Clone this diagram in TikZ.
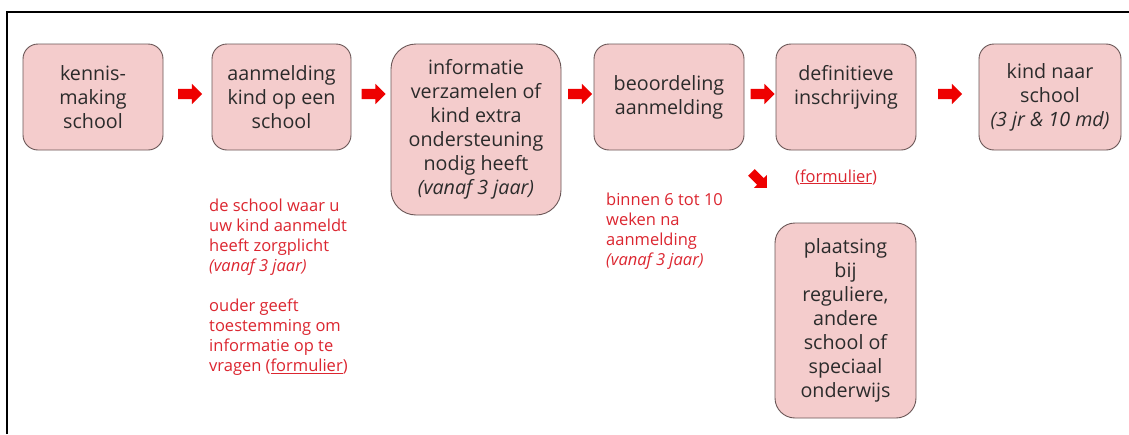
\documentclass[tikz,border=0pt]{standalone}
\usepackage{fontspec}
\setmainfont{Open Sans}
\usetikzlibrary{shapes.arrows}
\definecolor{boxfill}{HTML}{F4CCCC}
\definecolor{boxline}{HTML}{6A5656}
\definecolor{boxtext}{HTML}{2B2B2B}
\definecolor{notered}{HTML}{DC2630}
\definecolor{arrowred}{HTML}{EE0000}
\begin{document}
\begin{tikzpicture}[x=1pt,y=-1pt,
  stepbox/.style={draw=boxline, line width=0.9pt, fill=boxfill, rounded corners=15pt, align=center, text=boxtext, font=\fontsize{19.7}{24}\selectfont, inner sep=0pt},
  note/.style={text=notered, align=left, anchor=north west, inner sep=0pt, font=\fontsize{16.5}{20}\selectfont},
  blockarrow/.style={single arrow, fill=arrowred, draw=none, inner sep=0pt, inner ysep=5pt, minimum height=24pt, single arrow head extend=5pt, single arrow tip angle=90}
]
\useasboundingbox (0,0) rectangle (1129,434);
\fill[white] (0,0) rectangle (1129,434);
\draw[line width=2pt] (7,434) -- (7,12) -- (1129,12);

\node[stepbox, minimum width=140pt, minimum height=106pt] (b1) at (93,97) {kennis-\\making\\school};
\node[stepbox, minimum width=139pt, minimum height=106pt] (b2) at (281.5,97) {aanmelding\\kind op een\\school};
\node[stepbox, rounded corners=25pt, minimum width=170pt, minimum height=171pt] (b3) at (476,129.5) {informatie\\verzamelen of\\kind extra\\ondersteuning\\nodig heeft\\\textit{(vanaf 3 jaar)}};
\node[stepbox, minimum width=150pt, minimum height=106pt] (b4) at (669,97) {beoordeling\\aanmelding};
\node[stepbox, minimum width=140pt, minimum height=106pt] (b5) at (846,97) {definitieve\\inschrijving\\\mbox{}};
\node[stepbox, minimum width=142pt, minimum height=106pt] (b6) at (1050,97) {kind naar\\school\\\textit{(3 jr \& 10 md)}};
\node[stepbox, rounded corners=20pt, minimum width=141pt, minimum height=195pt] (b7) at (845.5,320.5) {plaatsing\\bij\\reguliere,\\andere\\school of\\speciaal\\onderwijs};

\path (b1.east) -- (b2.west) node[blockarrow, midway, yshift=3pt] (a1) {};
\path (b2.east) -- (b2.east -| b3.west) node[blockarrow, midway, yshift=3pt] (a2) {};
\path (b3.east |- b4.west) -- (b4.west) node[blockarrow, midway, yshift=3pt] (a3) {};
\path (b4.east) -- (b5.west) node[blockarrow, midway, yshift=3pt] (a4) {};
\path (b5.east) -- (b6.west) node[blockarrow, midway, yshift=3pt] (a5) {};
\node[blockarrow, rotate=-45, minimum height=22pt, inner ysep=4.5pt, single arrow head extend=4.5pt] (a6) at (757.5,178.5) {};

\node[note] (n1) at (209,198.5) {de school waar u\\uw kind aanmeldt\\heeft zorgplicht\\\textit{(vanaf 3 jaar)}\\[20pt]ouder geeft\\toestemming om\\informatie op te\\vragen (\underline{formulier})};
\node[note] (n2) at (606,192.5) {binnen 6 tot 10\\weken na\\aanmelding\\\textit{(vanaf 3 jaar)}};
\node[note, anchor=base west] (n3) at (795,182) {(\underline{formulier})};
\end{tikzpicture}
\end{document}
